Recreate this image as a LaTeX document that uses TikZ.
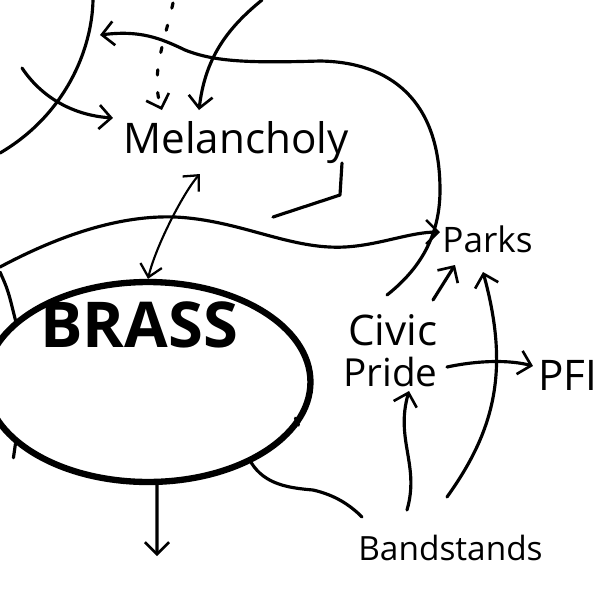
\documentclass[tikz,border=0pt]{standalone}
\usepackage{fontspec}
\setmainfont{Open Sans}
\usetikzlibrary{arrows.meta, shapes.geometric, positioning}

\tikzset{
  pen/.style={line width=1.8pt, line cap=round, line join=round},
  finepen/.style={line width=1.2pt, line cap=round},
  barb/.style={-{Straight Barb[length=2.4mm, width=4.8mm, line width=1.5pt]}},
  word/.style={inner sep=0pt, anchor=base west},
}

\begin{document}
\begin{tikzpicture}[x=0.02cm, y=-0.02cm]
\useasboundingbox (0,0) rectangle (600,600);
\clip (0,0) rectangle (600,600);

% Ring round BRASS
\node[draw, ellipse, line width=3.6pt, minimum width=6.5cm, minimum height=4cm] (ring) at (148,382) {};
\node[word, font=\fontsize{36}{40}\selectfont\bfseries] (brass) at (40,347) {BRASS};

% Words
\node[word, font=\fontsize{24}{28}\selectfont] (mel) at (123,153) {Melancholy};
\node[word, font=\fontsize{20}{24}\selectfont] (parks) at (442,252) {Parks};
\node[word, font=\fontsize{24}{28}\selectfont] (civic) at (348,345) {Civic};
\node[word, font=\fontsize{22}{26}\selectfont] (pride) at (343,386) {Pride};
\node[word, font=\fontsize{24}{28}\selectfont] (pfi) at (538,390) {PFI};
\node[word, font=\fontsize{19}{23}\selectfont] (bands) at (358,560) {Bandstands};

% Free ends
\coordinate (topA) at (93,0);
\coordinate (topB) at (262,0);
\coordinate (topDots) at (173,3);
\coordinate (leftA) at (22,68);
\coordinate (leftB) at (0,267);
\coordinate (leftC) at (0,272);
\coordinate (downEnd) at (157,556);

% Top left arcs
\draw[pen] (topA) .. controls (92,50) and (65,115) .. (0,153);
\draw[pen, barb] (leftA) .. controls (40,95) and (70,115) .. (113,118);

% Into Melancholy from above
\draw[pen, dash pattern=on 3pt off 10pt, barb] (topDots) .. controls (165,40) and (150,75) .. (162,110);
\draw[pen, barb] (topB) .. controls (225,30) and (205,60) .. (199,110);

% Melancholy tail
\draw[pen] (342,163) -- (340,195) -- (273,217);

% Melancholy <-> BRASS
\draw[finepen, {Straight Barb[length=2.4mm, width=4.4mm, line width=1.3pt]}-{Straight Barb[length=2.4mm, width=4.4mm, line width=1.3pt]}]
  (200,174) .. controls (185,190) and (156,245) .. (ring.north);

% Long curve into Parks
\draw[pen, barb] (leftB) .. controls (60,235) and (120,215) .. (175,217)
  .. controls (240,220) and (290,250) .. (345,247)
  .. controls (380,245) and (410,232) .. (440,232);
\draw[pen] (leftC) .. controls (8,290) .. (ring.155);

% Civic Pride loop back to the top
\draw[pen, barb] (387,295) .. controls (425,265) and (440,230) .. (440,190)
  .. controls (440,100) and (390,62) .. (320,61)
  .. controls (250,63) and (215,62) .. (185,50)
  .. controls (160,38) and (140,30) .. (100,35);
\draw[pen, barb] (433,300) -- (455,265);

% Pride to PFI
\draw[pen, barb] (447,367) .. controls (480,360) and (510,360) .. (533,366);

% From Bandstands
\draw[pen, barb] (407,510) .. controls (420,465) and (395,440) .. (409,391);
\draw[pen, barb] (447,497) .. controls (495,430) and (510,370) .. (483,272);

% From the ring
\draw[pen] (ring.-38) .. controls (265,485) and (290,488) .. (313,490)
  .. controls (335,495) and (350,505) .. (362,517);
\draw[pen, barb] (ring.-85) -- (downEnd);
\draw[pen] (ring.-16) -- ++(-3,-7);
\draw[pen] (ring.-155) -- ++(-2,14);

\end{tikzpicture}
\end{document}
